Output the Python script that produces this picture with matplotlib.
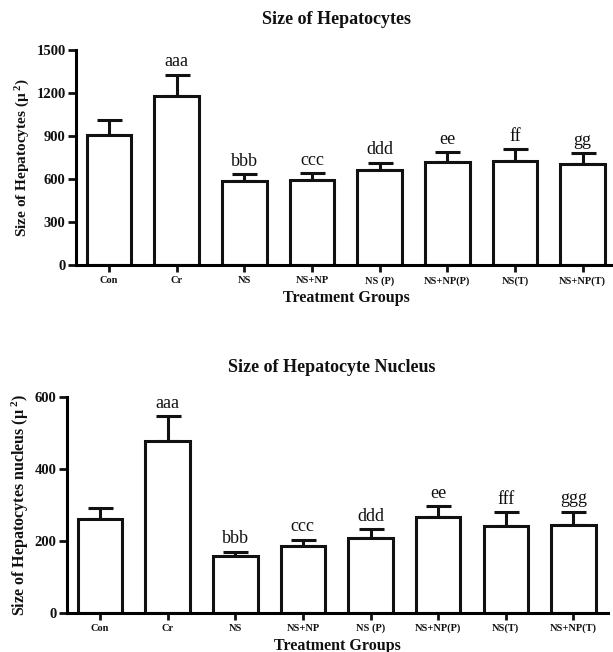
import matplotlib
matplotlib.use("Agg")
import matplotlib.pyplot as plt

plt.rcParams["font.family"] = ["Liberation Serif", "DejaVu Serif"]
plt.rcParams["mathtext.fontset"] = "custom"
plt.rcParams["mathtext.rm"] = "Liberation Serif:bold"
plt.rcParams["mathtext.it"] = "Liberation Serif:bold"

groups = ["Con", "Cr", "NS", "NS+NP", "NS (P)", "NS+NP(P)", "NS(T)", "NS+NP(T)"]

# size of hepatocytes
cell_mean = [907, 1180, 588, 595, 660, 720, 729, 706]
cell_err = [103, 149, 49, 49, 55, 70, 77, 72]
cell_marks = ["", "aaa", "bbb", "ccc", "ddd", "ee", "ff", "gg"]

# size of nucleus
nuc_mean = [259, 478, 158, 184, 208, 267, 242, 245]
nuc_err = [33, 68, 12, 19, 24, 30, 37, 36]
nuc_marks = ["", "aaa", "bbb", "ccc", "ddd", "ee", "fff", "ggg"]

fig = plt.figure(figsize=(6.13, 6.52), dpi=100)

ax1 = fig.add_axes([76 / 613, 1 - 265 / 652, 541 / 613, 215 / 652])
ax2 = fig.add_axes([66.7 / 613, 1 - 612.7 / 652, 541.3 / 613, 216 / 652])


def draw(ax, means, errs, marks, ymax, step, ylabel, ysize):
    x = range(len(groups))
    ax.bar(x, means, width=0.66, color="white", edgecolor="#111111", linewidth=2.2, zorder=2)
    ax.errorbar(x, means, yerr=[[0] * len(errs), errs], fmt="none", ecolor="#111111",
                elinewidth=2.2, capsize=9, capthick=2.2, zorder=1)
    for xi, m, e, t in zip(x, means, errs, marks):
        if t:
            ax.annotate(t, (xi, m + e), xytext=(0, 3), textcoords="offset points",
                        ha="center", va="bottom", fontsize=13, color="#111111")
    ax.set_xlim(-0.49, 7.51)
    ax.set_ylim(0, ymax)
    ax.set_yticks(range(0, ymax + 1, step))
    ax.set_xticks(list(x))
    ax.set_xticklabels(groups, fontsize=7.5, fontweight="bold")
    for lab in ax.get_yticklabels():
        lab.set_fontweight("bold")
        lab.set_fontsize(10.5)
    ax.spines["top"].set_visible(False)
    ax.spines["right"].set_visible(False)
    ax.spines["left"].set_linewidth(2.2)
    ax.spines["bottom"].set_linewidth(2.2)
    ax.tick_params(axis="y", length=6, width=2, pad=1.5, colors="#111111")
    ax.tick_params(axis="x", length=5, width=2, pad=3, colors="#111111")
    ax.set_ylabel(ylabel, fontsize=ysize, fontweight="bold", color="#111111")
    ax.set_xlabel("Treatment Groups", fontsize=11.5, fontweight="bold", color="#111111", labelpad=3)


draw(ax1, cell_mean, cell_err, cell_marks, 1500, 300, "Size of Hepatocytes (µ$^{\\ 2}$)", 11)
draw(ax2, nuc_mean, nuc_err, nuc_marks, 600, 200, "Size of Hepatocytes nucleus (µ$^{\\ 2}$)", 11.5)

ax1.yaxis.set_label_coords((32 - 76) / 541, 0.5)
ax2.yaxis.set_label_coords((31 - 66.7) / 541.3, 0.5)

fig.text(337 / 613, 1 - 20 / 652, "Size of Hepatocytes", ha="center", va="center",
         fontsize=13, fontweight="bold", color="#111111")
fig.text(332 / 613, 1 - 368 / 652, "Size of Hepatocyte Nucleus", ha="center", va="center",
         fontsize=13, fontweight="bold", color="#111111")

fig.savefig("out.png", dpi=100)
